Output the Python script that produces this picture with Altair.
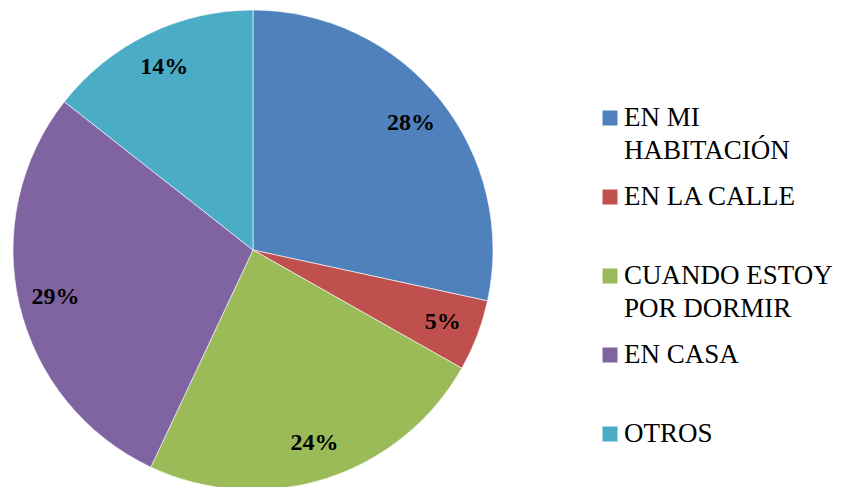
import altair as alt
import pandas as pd

categories = ["EN MI HABITACIÓN", "EN LA CALLE", "CUANDO ESTOY POR DORMIR", "EN CASA", "OTROS"]
legend_labels = ["EN MI\nHABITACIÓN", "EN LA CALLE", "CUANDO ESTOY\nPOR DORMIR", "EN CASA", "OTROS"]
# slice shares (percent) read from the slice boundaries; labels are their rounded values
percentages = [28.4, 4.8, 23.8, 28.6, 14.4]
colors = ["#4F81BD", "#C0504D", "#9BBB59", "#8064A2", "#4BACC6"]

SERIF = "Liberation Serif"

df = pd.DataFrame({
    "cat": categories,
    "legend": legend_labels,
    "pct": percentages,
    "idx": list(range(len(categories))),
})

color = alt.Color("cat:N", scale=alt.Scale(domain=categories, range=colors), legend=None)
order = alt.Order("idx:Q", sort="ascending")
theta = alt.Theta("pct:Q", stack=True)

base = alt.Chart(df)
arcs = base.mark_arc(outerRadius=240, stroke="white", strokeWidth=0.6).encode(
    theta=theta, color=color, order=order
)
labels = base.transform_calculate(
    label="format(round(datum.pct), 'd') + '%'"
).mark_text(
    radius=203, font=SERIF, fontSize=24, fontWeight="bold", color="black"
).encode(theta=theta, order=order, text="label:N")
pie = (arcs + labels).properties(width=480, height=480)

ypos = alt.Y("cat:N", scale=alt.Scale(domain=categories, type="point", range=[108, 424], padding=0),
             axis=None)
leg_base = alt.Chart(df)
markers = leg_base.mark_point(shape="square", filled=True, size=225, opacity=1).encode(
    x=alt.value(115), y=ypos, color=color
)
texts = leg_base.mark_text(
    align="left", baseline="alphabetic", dy=8, lineBreak="\n", lineHeight=33,
    font=SERIF, fontSize=27, color="black"
).encode(x=alt.value(129), y=ypos, text="legend:N")
legend = (markers + texts).properties(width=320, height=480)

chart = alt.hconcat(pie, legend, spacing=0).properties(
    padding={"left": 3, "top": 0, "right": 0, "bottom": 0}
).configure_view(strokeWidth=0)

chart.save("out.html", embed_options={"renderer": "svg", "actions": False})
